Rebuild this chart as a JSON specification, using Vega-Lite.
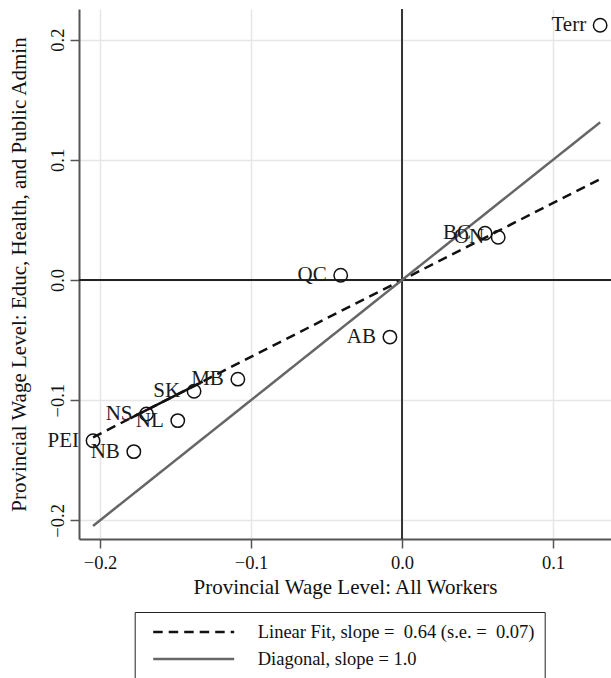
{
  "$schema": "https://vega.github.io/schema/vega-lite/v6.json",
  "width": 532,
  "height": 530,
  "autosize": {"type": "none"},
  "padding": {"left": 79, "top": 9, "right": 0, "bottom": 139},
  "background": "#ffffff",
  "config": {
    "view": {"stroke": null},
    "font": "Liberation Serif",
    "axis": {
      "domainColor": "#555555",
      "domainWidth": 2,
      "tickColor": "#555555",
      "tickWidth": 1.5,
      "tickSize": 9,
      "grid": true,
      "gridColor": "#e6e6e6",
      "gridWidth": 1.5,
      "labelFont": "Liberation Serif",
      "labelFontSize": 18.5,
      "labelColor": "#111111",
      "labelFlush": false,
      "labelOverlap": false,
      "titleFont": "Liberation Serif",
      "titleFontSize": 21,
      "titleFontWeight": "normal",
      "titleColor": "#111111"
    },
    "axisX": {
      "labelPadding": 5,
      "titleX": 266, "titleY": 54,
      "titleAlign": "center", "titleBaseline": "alphabetic"
    },
    "axisY": {
      "labelAngle": 270,
      "labelAlign": "center",
      "labelBaseline": "alphabetic",
      "labelPadding": 6.7,
      "titleAngle": 270,
      "titleX": -54, "titleY": 265,
      "titleAlign": "center", "titleBaseline": "alphabetic"
    }
  },
  "datasets": {
    "provinces": [
      {"province": "PEI", "all_workers": -0.2046, "educ_health_admin": -0.1337},
      {"province": "NB", "all_workers": -0.1776, "educ_health_admin": -0.1428},
      {"province": "NS", "all_workers": -0.1692, "educ_health_admin": -0.1115},
      {"province": "NL", "all_workers": -0.1485, "educ_health_admin": -0.1170},
      {"province": "SK", "all_workers": -0.1377, "educ_health_admin": -0.0925},
      {"province": "MB", "all_workers": -0.1087, "educ_health_admin": -0.0825},
      {"province": "QC", "all_workers": -0.0406, "educ_health_admin": 0.0040},
      {"province": "AB", "all_workers": -0.0080, "educ_health_admin": -0.0475},
      {"province": "BC", "all_workers": 0.0550, "educ_health_admin": 0.0389},
      {"province": "ON", "all_workers": 0.0637, "educ_health_admin": 0.0356},
      {"province": "Terr", "all_workers": 0.1312, "educ_health_admin": 0.2120}
    ],
    "fit_lines": [
      {"series": "Linear Fit, slope = \u00a00.64 (s.e. = \u00a00.07)", "all_workers": -0.2046, "educ_health_admin": -0.1309},
      {"series": "Linear Fit, slope = \u00a00.64 (s.e. = \u00a00.07)", "all_workers": 0.1312, "educ_health_admin": 0.0840},
      {"series": "Diagonal, slope = 1.0", "all_workers": -0.2046, "educ_health_admin": -0.2046},
      {"series": "Diagonal, slope = 1.0", "all_workers": 0.1312, "educ_health_admin": 0.1312}
    ],
    "fit_solid": [
      {"all_workers": -0.1800, "educ_health_admin": -0.1152},
      {"all_workers": -0.1320, "educ_health_admin": -0.0845}
    ]
  },
  "layer": [
    {
      "data": {"values": [{"all_workers": 0}]},
      "mark": {"type": "rule", "color": "#222222", "strokeWidth": 1.8},
      "encoding": {
        "x": {"field": "all_workers", "type": "quantitative",
              "title": "Provincial Wage Level: All Workers",
              "axis": {"values": [-0.2, -0.1, 0, 0.1], "format": ".1f"},
              "scale": {"domain": [-0.2139, 0.1384], "nice": false, "zero": false}}
      }
    },
    {
      "data": {"values": [{"educ_health_admin": 0}]},
      "mark": {"type": "rule", "color": "#222222", "strokeWidth": 1.8},
      "encoding": {
        "y": {"field": "educ_health_admin", "type": "quantitative",
              "title": "Provincial Wage Level: Educ, Health, and Public Admin",
              "axis": {"values": [-0.2, -0.1, 0, 0.1, 0.2], "format": ".1f"},
              "scale": {"domain": [-0.2155, 0.2255], "nice": false, "zero": false}}
      }
    },
    {
      "data": {"name": "fit_lines"},
      "mark": {"type": "line", "strokeWidth": 2.5, "strokeCap": "butt"},
      "encoding": {
        "x": {"field": "all_workers", "type": "quantitative",
              "title": "Provincial Wage Level: All Workers",
              "axis": {"values": [-0.2, -0.1, 0, 0.1], "format": ".1f"},
              "scale": {"domain": [-0.2139, 0.1384], "nice": false, "zero": false}},
        "y": {"field": "educ_health_admin", "type": "quantitative",
              "title": "Provincial Wage Level: Educ, Health, and Public Admin",
              "axis": {"values": [-0.2, -0.1, 0, 0.1, 0.2], "format": ".1f"},
              "scale": {"domain": [-0.2155, 0.2255], "nice": false, "zero": false}},
        "color": {
          "field": "series", "type": "nominal",
          "scale": {
            "domain": ["Linear Fit, slope = \u00a00.64 (s.e. = \u00a00.07)", "Diagonal, slope = 1.0"],
            "range": ["#111111", "#666666"]
          },
          "legend": {
            "orient": "none", "legendX": 55.7, "legendY": 603,
            "title": null, "direction": "vertical",
            "symbolType": "stroke", "symbolSize": 6561, "symbolStrokeWidth": 2.5,
            "clipHeight": 20, "rowPadding": 7, "padding": 10,
            "symbolOffset": 7, "labelOffset": 22,
            "labelFont": "Liberation Serif", "labelFontSize": 18.5,
            "labelColor": "#111111", "labelLimit": 450,
            "strokeColor": "#222222", "fillColor": "#ffffff"
          }
        },
        "strokeDash": {
          "field": "series", "type": "nominal",
          "scale": {
            "domain": ["Linear Fit, slope = \u00a00.64 (s.e. = \u00a00.07)", "Diagonal, slope = 1.0"],
            "range": [[9.5, 6], [1, 0]]
          },
          "legend": {
            "orient": "none", "legendX": 55.7, "legendY": 603,
            "title": null, "direction": "vertical",
            "symbolType": "stroke", "symbolSize": 6561, "symbolStrokeWidth": 2.5,
            "clipHeight": 20, "rowPadding": 7, "padding": 10,
            "symbolOffset": 7, "labelOffset": 22,
            "labelFont": "Liberation Serif", "labelFontSize": 18.5,
            "labelColor": "#111111", "labelLimit": 450,
            "strokeColor": "#222222", "fillColor": "#ffffff"
          }
        }
      }
    },
    {
      "data": {"name": "fit_solid"},
      "mark": {"type": "line", "strokeWidth": 2.5, "color": "#111111", "strokeCap": "butt"},
      "encoding": {
        "x": {"field": "all_workers", "type": "quantitative",
              "title": "Provincial Wage Level: All Workers",
              "axis": {"values": [-0.2, -0.1, 0, 0.1], "format": ".1f"},
              "scale": {"domain": [-0.2139, 0.1384], "nice": false, "zero": false}},
        "y": {"field": "educ_health_admin", "type": "quantitative",
              "title": "Provincial Wage Level: Educ, Health, and Public Admin",
              "axis": {"values": [-0.2, -0.1, 0, 0.1, 0.2], "format": ".1f"},
              "scale": {"domain": [-0.2155, 0.2255], "nice": false, "zero": false}}
      }
    },
    {
      "data": {"name": "provinces"},
      "mark": {"type": "point", "shape": "circle", "filled": false, "size": 180,
               "stroke": "#111111", "strokeWidth": 1.5, "opacity": 1},
      "encoding": {
        "x": {"field": "all_workers", "type": "quantitative",
              "title": "Provincial Wage Level: All Workers",
              "axis": {"values": [-0.2, -0.1, 0, 0.1], "format": ".1f"},
              "scale": {"domain": [-0.2139, 0.1384], "nice": false, "zero": false}},
        "y": {"field": "educ_health_admin", "type": "quantitative",
              "title": "Provincial Wage Level: Educ, Health, and Public Admin",
              "axis": {"values": [-0.2, -0.1, 0, 0.1, 0.2], "format": ".1f"},
              "scale": {"domain": [-0.2155, 0.2255], "nice": false, "zero": false}}
      }
    },
    {
      "data": {"name": "provinces"},
      "mark": {"type": "text", "align": "right", "baseline": "middle", "dx": -14,
               "font": "Liberation Serif", "fontSize": 21, "color": "#1a1a1a"},
      "encoding": {
        "x": {"field": "all_workers", "type": "quantitative",
              "title": "Provincial Wage Level: All Workers",
              "axis": {"values": [-0.2, -0.1, 0, 0.1], "format": ".1f"},
              "scale": {"domain": [-0.2139, 0.1384], "nice": false, "zero": false}},
        "y": {"field": "educ_health_admin", "type": "quantitative",
              "title": "Provincial Wage Level: Educ, Health, and Public Admin",
              "axis": {"values": [-0.2, -0.1, 0, 0.1, 0.2], "format": ".1f"},
              "scale": {"domain": [-0.2155, 0.2255], "nice": false, "zero": false}},
        "text": {"field": "province"}
      }
    }
  ]
}
